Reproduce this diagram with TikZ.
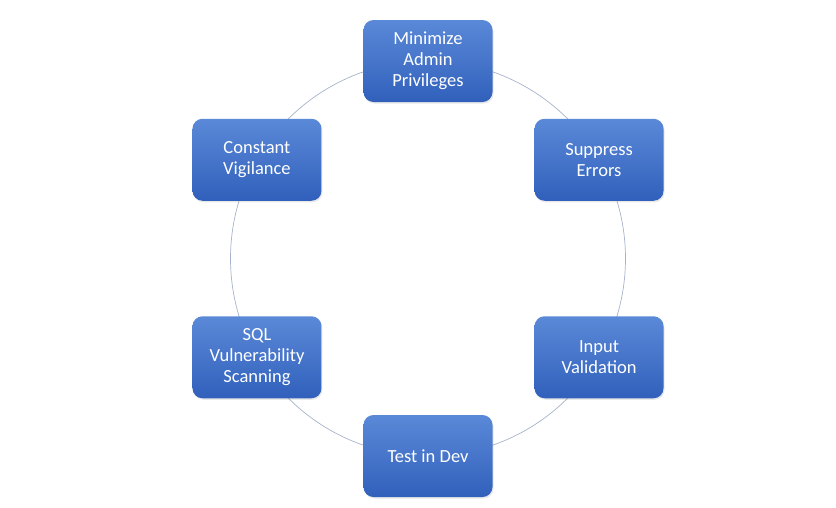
\documentclass[tikz,border=0pt]{standalone}
\usepackage{fontspec}
\setmainfont{Carlito}
\usetikzlibrary{shadows}
\definecolor{boxtop}{HTML}{5A89D8}
\definecolor{boxbot}{HTML}{3160BC}
\definecolor{ringcol}{HTML}{A7B3CB}

\begin{document}
\begin{tikzpicture}[x=1pt, y=-1pt,
  item/.style={rectangle, rounded corners=10pt, minimum width=129pt, minimum height=82pt,
    top color=boxtop, bottom color=boxbot, text=white, align=center,
    font=\fontsize{18.5}{21}\selectfont,
    drop shadow={opacity=0.18, shadow xshift=1pt, shadow yshift=-1.5pt}},
  ring/.style={ringcol, line width=0.7pt}]
  \useasboundingbox (0,0) rectangle (836,507);
  \coordinate (hub) at (428,258.5);
  \draw[ring] (hub) circle[radius=197.5pt];

  \node[item] (admin) at ([shift={(90:197.5pt)}]hub) {Minimize\\Admin\\Privileges};
  \node[item] (errors) at ([shift={(30:197.5pt)}]hub) {Suppress\\Errors};
  \node[item] (input) at ([shift={(-30:197.5pt)}]hub) {Input\\Validation};
  \node[item] (dev) at ([shift={(-90:197.5pt)}]hub) {Test in Dev};
  \node[item] (scan) at ([shift={(-150:197.5pt)}]hub) {SQL\\Vulnerability\\Scanning};
  \node[item] (watch) at ([shift={(150:197.5pt)}]hub) {Constant\\Vigilance};
\end{tikzpicture}
\end{document}
